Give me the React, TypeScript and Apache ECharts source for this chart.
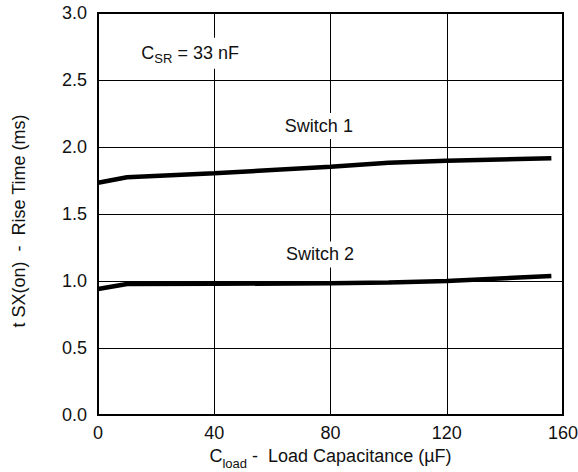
import React, { useEffect, useRef } from "react";
import * as echarts from "echarts";

const capacitance = [0, 10, 40, 80, 100, 120, 156];
const switch1 = [1.733, 1.774, 1.804, 1.853, 1.882, 1.898, 1.916];
const switch2 = [0.94, 0.978, 0.979, 0.983, 0.988, 1.0, 1.037];
const yTicks = ["0.0", "0.5", "1.0", "1.5", "2.0", "2.5", "3.0"];
const xTicks = ["0", "40", "80", "120", "160"];

const labelCsr = { x: 31.7, y: 2.7 };
const labelS1 = { x: 76, y: 2.157, text: "Switch 1" };
const labelS2 = { x: 76.4, y: 1.198, text: "Switch 2" };

const FONT = "'Liberation Sans', Arial, Helvetica, sans-serif";
const FS = 18;

export default function App() {
  const ref = useRef<HTMLDivElement>(null);
  useEffect(() => {
    if (!ref.current) return;
    const chart = echarts.init(ref.current, null, { renderer: "svg" });
    const toPairs = (ys: number[]) => capacitance.map((x, i) => [x, ys[i]]);
    chart.setOption({
      animation: false,
      backgroundColor: "#fff",
      textStyle: { fontFamily: FONT },
      grid: {
        left: 98,
        right: 15,
        top: 13,
        bottom: 57,
        show: true,
        borderColor: "#000",
        borderWidth: 2,
        containLabel: false,
        outerBoundsMode: "none",
      },
      xAxis: {
        type: "value",
        min: 0,
        max: 160,
        interval: 40,
        axisLine: { show: false },
        axisTick: { show: false },
        splitLine: { show: true, lineStyle: { color: "#000", width: 1 } },
        axisLabel: {
          color: "#111",
          fontSize: FS,
          fontFamily: FONT,
          margin: 9,
          formatter: (v: number) => xTicks[Math.round(v / 40)] ?? String(v),
        },
        name: "{m|C}{s|load}{m| -  Load Capacitance (µF)}",
        nameLocation: "middle",
        nameGap: 30,
        nameTextStyle: {
          verticalAlign: "top",
          rich: {
            m: { fontSize: FS, color: "#111", fontFamily: FONT, verticalAlign: "top" },
            s: { fontSize: 13, color: "#111", fontFamily: FONT, padding: [10, 0, 0, 0] },
          },
        },
      },
      yAxis: {
        type: "value",
        min: 0,
        max: 3,
        interval: 0.5,
        axisLine: { show: false },
        axisTick: { show: false },
        splitLine: { show: true, lineStyle: { color: "#000", width: 1 } },
        axisLabel: {
          color: "#111",
          fontSize: FS,
          fontFamily: FONT,
          margin: 11,
          formatter: (v: number) => yTicks[Math.round(v / 0.5)] ?? v.toFixed(1),
        },
        name: "t SX(on)  -  Rise Time (ms)",
        nameLocation: "middle",
        nameGap: 70,
        nameTextStyle: { fontSize: FS, color: "#111", fontFamily: FONT, padding: [0, 14, 0, 0] },
      },
      series: [
        {
          type: "line",
          data: toPairs(switch1),
          symbol: "none",
          lineStyle: { color: "#000", width: 4.5 },
          z: 5,
        },
        {
          type: "line",
          data: toPairs(switch2),
          symbol: "none",
          lineStyle: { color: "#000", width: 4.5 },
          z: 5,
        },
      ],
    });

    const p = (pt: { x: number; y: number }) =>
      chart.convertToPixel({ gridIndex: 0 }, [pt.x, pt.y]) as number[];
    const pc = p(labelCsr);
    const p1 = p(labelS1);
    const p2 = p(labelS2);
    const txt = (pos: number[], text: string) => ({
      type: "text",
      x: pos[0],
      y: pos[1],
      z: 10,
      style: {
        text,
        fill: "#111",
        font: `${FS}px ${FONT}`,
        align: "center",
        verticalAlign: "middle",
        backgroundColor: "#fff",
        padding: [4, 6, 4, 6],
      },
    });
    chart.setOption({
      graphic: [
        {
          type: "text",
          x: pc[0],
          y: pc[1],
          z: 10,
          style: {
            text: "{m|C}{s|SR}{m| = 33 nF}",
            fill: "#111",
            align: "center",
            verticalAlign: "middle",
            backgroundColor: "#fff",
            padding: [4, 6, 4, 6],
            rich: {
              m: { fontSize: FS, fontFamily: FONT, fill: "#111" },
              s: { fontSize: 13, fontFamily: FONT, fill: "#111", padding: [10, 0, 0, 0] },
            },
          },
        },
        txt(p1, labelS1.text),
        txt(p2, labelS2.text),
      ],
    });
    return () => chart.dispose();
  }, []);
  return <div ref={ref} style={{ width: 578, height: 472, position: "absolute", left: 0, top: 0 }} />;
}
